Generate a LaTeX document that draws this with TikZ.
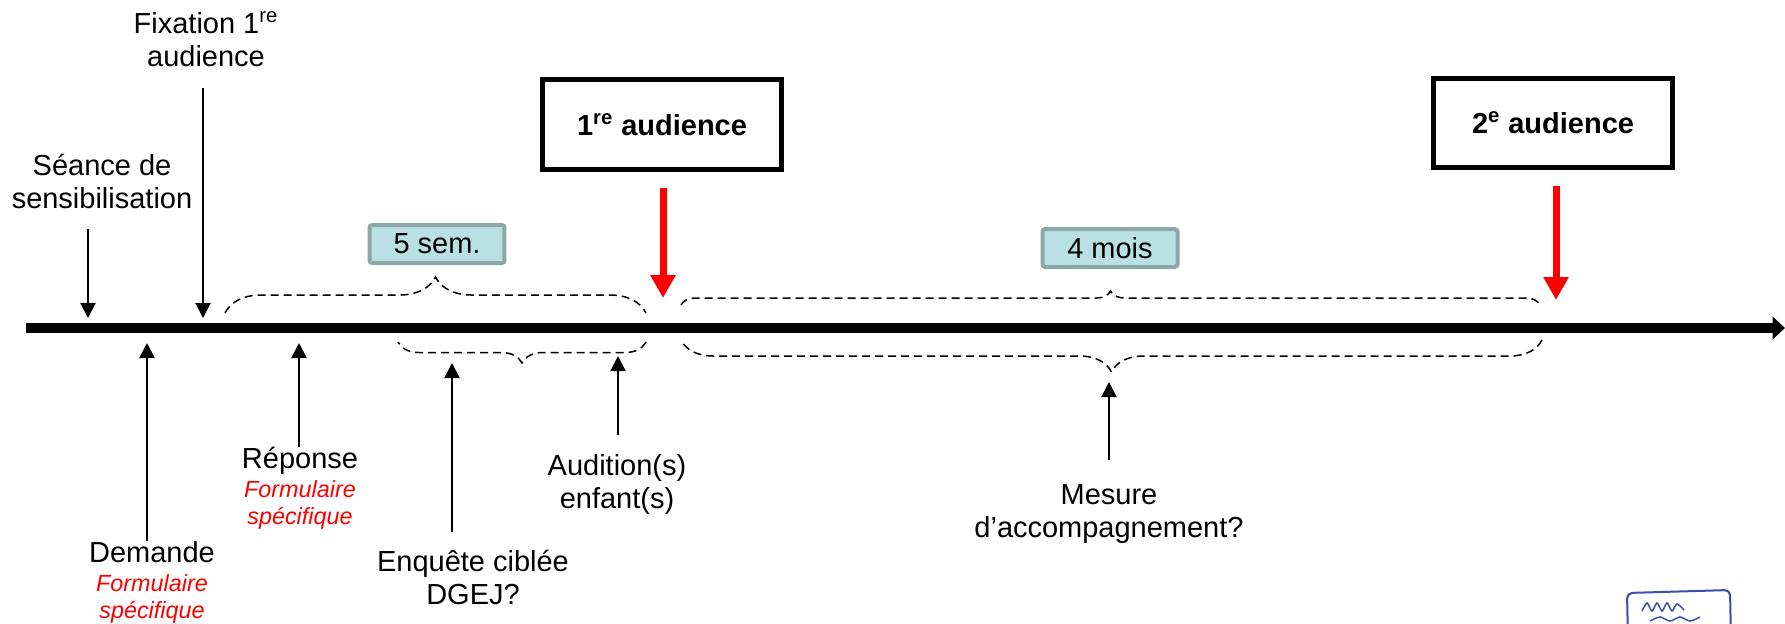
\documentclass[tikz,border=0pt]{standalone}
\usepackage{fontspec}
\setmainfont{Liberation Sans}
\usetikzlibrary{arrows.meta,decorations.pathreplacing}

\tikzset{	PxGrid/.style={x=0.02cm,y=-0.02cm},
		pfeil/.style={-{Triangle[length=0.3cm,width=0.3cm]},line width=0.04cm},
		rotpfeil/.style={-{Triangle[length=0.46cm,width=0.48cm]},line width=0.14cm,redT},
		klammer/.style={decorate,line width=0.03cm,dash pattern=on 0.16cm off 0.1cm},
		termin/.style={draw,line width=0.1cm,minimum width=4.78cm,minimum height=1.8cm,
				font=\grundschrift\bfseries},
		dauer/.style={draw=boxRand,fill=boxFill,line width=0.08cm,rounded corners=1.5pt,
				minimum width=2.7cm,minimum height=0.76cm},
		etikett/.style={align=center,inner sep=0pt}
		}
\definecolor{redT}{rgb}{1,0,0}
\definecolor{boxFill}{HTML}{B9E1E4}
\definecolor{boxRand}{HTML}{8DA7A9}
\definecolor{blueT}{HTML}{3A4FA8}
\newcommand{\grundschrift}{\fontsize{16.5}{18.8}\selectfont}
\newcommand{\formtext}[1]{{\fontsize{13.3}{15.4}\selectfont\itshape\color{redT}#1}}

\begin{document}
\begin{tikzpicture}[PxGrid,font=\grundschrift]
	\useasboundingbox (0,0) rectangle (1785,623);

        % zeitachse
	\coordinate (start) at (26,328);
	\coordinate (ende) at (1785,328);
        \draw[line width=0.2cm,-{Triangle[length=0.25cm,width=0.45cm]}] (start)--(ende);

        % ereignisse oben
	\node[etikett,anchor=south] (seance) at (102,209) {Séance de\\sensibilisation};
	\node[etikett,anchor=south] (fixation) at (206,67) {Fixation 1\textsuperscript{re}\\audience};
	\coordinate (pSeance) at (88,318);
	\coordinate (pFixation) at (203,318);
        \draw[pfeil,shorten <=0.4cm] (seance.south -| pSeance)--(pSeance);
        \draw[pfeil,shorten <=0.42cm] (fixation.south -| pFixation)--(pFixation);

        % ereignisse unten
	\node[etikett,anchor=north] (demande) at (152,541) {Demande\\[-2.3pt]\formtext{Formulaire}\\[-3.4pt]\formtext{spécifique}};
	\node[etikett,anchor=north] (reponse) at (300,447) {Réponse\\[-2.3pt]\formtext{Formulaire}\\[-3.4pt]\formtext{spécifique}};
	\node[etikett,anchor=north] (enquete) at (473,550) {Enquête ciblée\\DGEJ?};
	\node[etikett,anchor=north] (audition) at (617,454) {Audition(s)\\enfant(s)};
	\node[etikett,anchor=north] (mesure) at (1109,484) {Mesure\\d’accompagnement?};
	\coordinate (pDemande) at (147,343);
	\coordinate (pReponse) at (299,343);
	\coordinate (pEnquete) at (452,363);
	\coordinate (pAudition) at (618,356);
	\coordinate (pMesure) at (1109,382);
        \draw[pfeil] (demande.north -| pDemande)--(pDemande);
        \draw[pfeil] (reponse.north -| pReponse)--(pReponse);
        \draw[pfeil,shorten <=0.36cm] (enquete.north -| pEnquete)--(pEnquete);
        \draw[pfeil,shorten <=0.38cm] (audition.north -| pAudition)--(pAudition);
        \draw[pfeil,shorten <=0.48cm] (mesure.north -| pMesure)--(pMesure);

        % audienzen
	\node[termin] (aud1) at (662,124.5) {1\textsuperscript{re} audience};
	\node[termin] (aud2) at (1553,123) {2\textsuperscript{e} audience};
	\coordinate (rot1) at (663,298);
	\coordinate (rot2) at (1556,300);
        \draw[rotpfeil,shorten <=0.32cm] (aud1.south -| rot1)--(rot1);
        \draw[rotpfeil,shorten <=0.32cm] (aud2.south -| rot2)--(rot2);

        % fristen und klammern
	\node[dauer] (sem) at (437,244) {5 sem.};
	\node[dauer] (mois) at (1110,248) {4 mois};
	\coordinate (k1a) at (225,313);
	\coordinate (k1b) at (646,313);
	\coordinate (k2a) at (681,305);
	\coordinate (k2b) at (1540,305);
	\coordinate (k3a) at (646,342);
	\coordinate (k3b) at (398,342);
	\coordinate (k4a) at (1542,340);
	\coordinate (k4b) at (681,340);
        \draw[klammer,decoration={brace,amplitude=0.72cm}] (k1a)--(k1b);
        \draw[klammer,decoration={brace,amplitude=0.28cm}] (k2a)--(k2b);
        \draw[klammer,decoration={brace,amplitude=0.42cm}] (k3a)--(k3b);
        \draw[klammer,decoration={brace,amplitude=0.64cm}] (k4a)--(k4b);

        % stempel
        \draw[blueT,line width=0.04cm,rounded corners=3pt] (1627,593)--(1730,590)--(1731,640)--(1628,640)--cycle;
        \draw[blueT,line width=0.03cm] plot[smooth] coordinates {(1642,611)(1647,603)(1652,611)(1657,603)(1662,611)(1667,603)(1672,611)(1677,604)(1684,610)};
        \draw[blueT,line width=0.03cm] plot[smooth] coordinates {(1650,621)(1660,617)(1670,621)(1680,617)(1690,621)(1700,617)};
\end{tikzpicture}
\end{document}
